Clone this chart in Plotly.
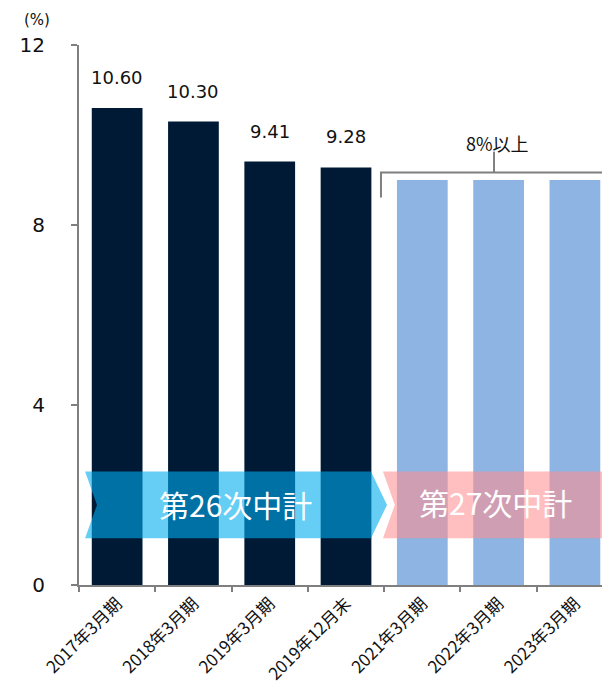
import plotly.graph_objects as go

categories = ["2017年3月期", "2018年3月期", "2019年3月期", "2019年12月末",
              "2021年3月期", "2022年3月期", "2023年3月期"]
actual_values = [10.60, 10.30, 9.41, 9.28]
target_values = [9.0, 9.0, 9.0]
actual_labels = ["10.60", "10.30", "9.41", "9.28"]
y_ticks = [0, 4, 8, 12]
target_text = "8%以上"
plan26 = "第26次中計"
plan27 = "第27次中計"

NAVY = "#001A35"
LIGHT = "#8DB4E2"
NUM_FONT = "DejaVu Sans, Noto Sans CJK JP"
JP_FONT = "Noto Sans CJK JP, DejaVu Sans"

fig = go.Figure()
fig.add_trace(go.Bar(x=categories[:4], y=actual_values, marker_color=NAVY,
                     marker_line_width=0, hoverinfo="skip"))
fig.add_trace(go.Bar(x=categories[4:], y=target_values, marker_color=LIGHT,
                     marker_line_width=0, hoverinfo="skip"))

for c, v, t in zip(categories[:4], actual_values, actual_labels):
    fig.add_annotation(x=c, y=v, text=t, showarrow=False, yanchor="bottom",
                       yshift=18, font=dict(family=NUM_FONT, size=18, color="#111"))

# bracket for targets
GRAY = "#7f7f7f"
fig.add_shape(type="path", xref="x", yref="y",
              path="M 3.458 8.61 L 3.458 9.165 L 7.0 9.165",
              line=dict(color=GRAY, width=2))
fig.add_shape(type="line", xref="x", yref="y", x0=4.94, x1=4.94, y0=9.165, y1=9.63,
              line=dict(color=GRAY, width=2))
fig.add_annotation(x=4.98, y=9.83, text=target_text, showarrow=False,
                   font=dict(family=JP_FONT, size=18, color="#111"))

# chevron bands
fig.add_shape(type="path", xref="x", yref="y", layer="above",
              path="M -0.42 2.52 L 3.327 2.52 L 3.537 1.78 L 3.327 1.04 L -0.42 1.04 L -0.264 1.78 Z",
              fillcolor="rgba(0,172,238,0.6)", line=dict(width=0))
fig.add_shape(type="path", xref="x", yref="y", layer="above",
              path="M 3.484 2.52 L 6.41 2.52 L 6.6 1.78 L 6.41 1.04 L 3.484 1.04 L 3.64 1.78 Z",
              fillcolor="rgba(255,143,145,0.58)", line=dict(width=0))
fig.add_annotation(x=1.55, y=1.8, text=plan26, showarrow=False,
                   font=dict(family=JP_FONT, size=30, color="white"))
fig.add_annotation(x=4.96, y=1.84, text=plan27, showarrow=False,
                   font=dict(family=JP_FONT, size=30, color="white"))

fig.add_annotation(xref="paper", yref="paper", x=-0.079, y=1.0, yshift=25,
                   text="(%)", showarrow=False, xanchor="center", yanchor="middle",
                   font=dict(family=NUM_FONT, size=15, color="#111"))

fig.update_layout(
    width=602, height=677,
    margin=dict(l=71, r=0, t=37, b=98),
    plot_bgcolor="white", paper_bgcolor="white",
    showlegend=False, bargap=0.335, barmode="overlay",
    xaxis=dict(type="category", categoryorder="array", categoryarray=categories,
               range=[-0.5, 6.46], tickson="boundaries", ticks="outside",
               ticklen=5, tickcolor=GRAY, tickwidth=2,
               showline=True, linecolor=GRAY, linewidth=2, tickangle=-45,
               showgrid=False, tickfont=dict(family=JP_FONT, size=17, color="#111")),
    yaxis=dict(range=[0, 12], tickvals=y_ticks, ticks="outside", ticklen=6,
               tickcolor=GRAY, tickwidth=2, showline=True, linecolor=GRAY,
               linewidth=2, showgrid=False, zeroline=False, ticklabelstandoff=22,
               tickfont=dict(family=NUM_FONT, size=20, color="#111")),
)

fig.write_html("out.html")
